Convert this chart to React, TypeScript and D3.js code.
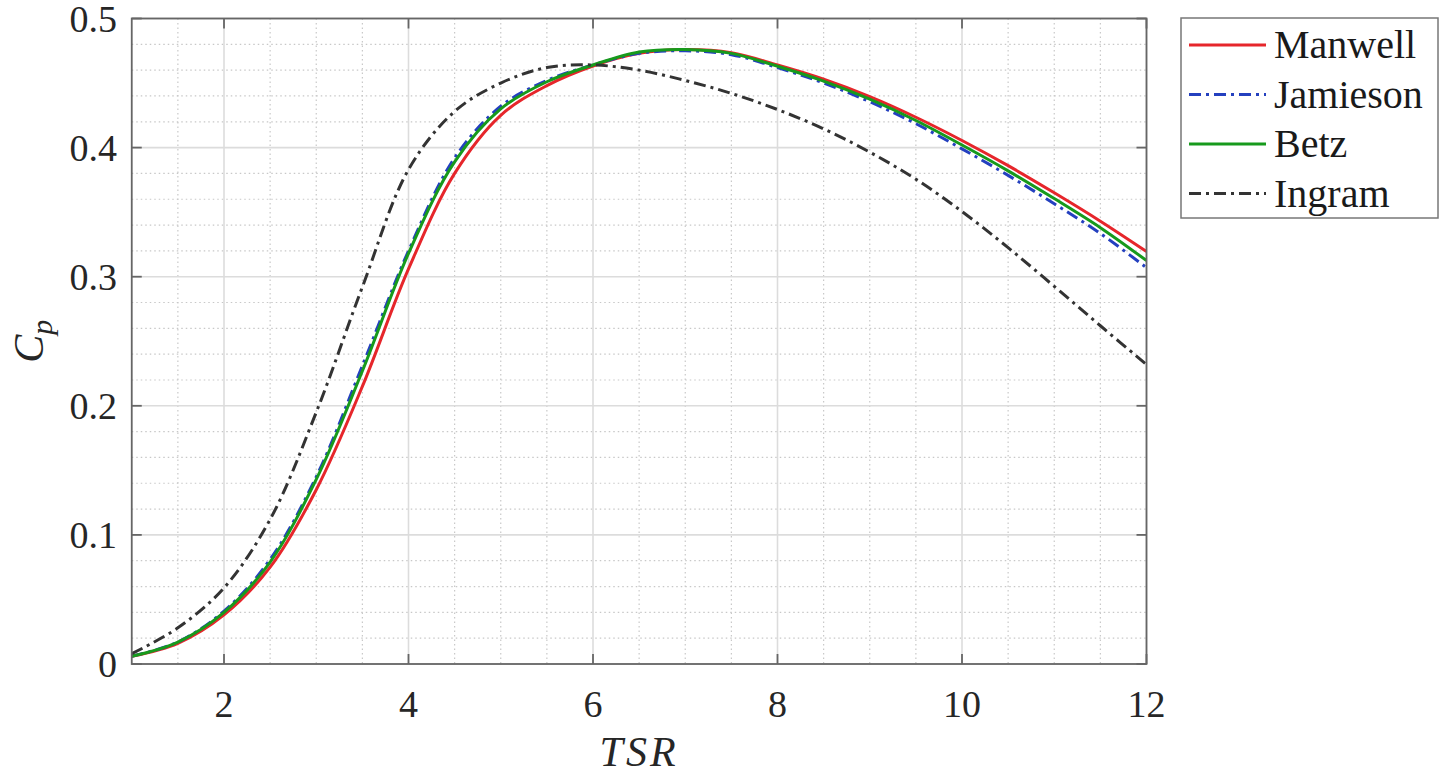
import * as d3 from "d3";

// tip speed ratio samples
const TSR = [1, 1.5, 2, 2.5, 3, 3.5, 4, 4.5, 5, 5.5, 6, 6.5, 7, 7.5, 8, 8.5, 9, 9.5, 10, 10.5, 11, 11.5, 12];

const MANWELL = [0.006, 0.016, 0.038, 0.075, 0.135, 0.215, 0.306, 0.38, 0.425, 0.448, 0.4632, 0.473, 0.476, 0.4735, 0.464, 0.453, 0.4395, 0.4235, 0.4055, 0.386, 0.365, 0.343, 0.3195];
const JAMIESON = [0.006, 0.017, 0.041, 0.081, 0.145, 0.231, 0.32, 0.392, 0.432, 0.452, 0.464, 0.473, 0.475, 0.472, 0.462, 0.45, 0.4355, 0.4185, 0.399, 0.3785, 0.3565, 0.3335, 0.307];
const BETZ = [0.006, 0.017, 0.04, 0.079, 0.143, 0.227, 0.318, 0.389, 0.43, 0.451, 0.464, 0.474, 0.476, 0.473, 0.463, 0.4515, 0.4375, 0.421, 0.402, 0.382, 0.3605, 0.338, 0.3125];
const INGRAM = [0.008, 0.028, 0.059, 0.112, 0.195, 0.292, 0.383, 0.428, 0.45, 0.462, 0.464, 0.46, 0.452, 0.442, 0.4295, 0.4145, 0.3965, 0.3755, 0.3505, 0.3225, 0.2925, 0.262, 0.232];

const X_TICKS = [2, 4, 6, 8, 10, 12];
const Y_TICKS = [0, 0.1, 0.2, 0.3, 0.4, 0.5];
const Y_TICK_LABELS = ["0", "0.1", "0.2", "0.3", "0.4", "0.5"];

const SERIES = [
  { name: "Manwell", values: MANWELL, color: "#e6262b", dash: "none" },
  { name: "Jamieson", values: JAMIESON, color: "#2440bf", dash: "12,5,3,5" },
  { name: "Betz", values: BETZ, color: "#179a1c", dash: "none" },
  { name: "Ingram", values: INGRAM, color: "#333333", dash: "12,5,3,5" },
];

const W = 1447;
const H = 775;
const left = 131.75;
const right = 1146.5;
const top = 18.5;
const bottom = 664;

const FONT = '"Times New Roman", "Liberation Serif", Tinos, Times, serif';

export default function App() {
  const x = d3.scaleLinear().domain([1, 12]).range([left, right]);
  const y = d3.scaleLinear().domain([0, 0.5]).range([bottom, top]);

  const xMinor = d3.range(1.5, 12, 0.5).filter((t) => t % 2 !== 0);
  const yMinor = d3.range(0.02, 0.5, 0.02).filter((v) => Math.abs(v * 10 - Math.round(v * 10)) > 1e-6);

  const line = d3
    .line<number>()
    .x((_, i) => x(TSR[i]))
    .y((d) => y(d))
    .curve(d3.curveCatmullRom.alpha(0.5));

  const axisColor = "#666";
  const tickLen = 10;

  return (
    <div style={{ position: "absolute", left: 0, top: 0 }}>
      <svg width={W} height={H} style={{ display: "block", background: "#fff" }}>
        <defs>
          <clipPath id="plot">
            <rect x={left} y={top} width={right - left} height={bottom - top} />
          </clipPath>
        </defs>

        {/* minor grid */}
        <g stroke="#c8c8c8" strokeWidth={1.2} strokeDasharray="1.5,3">
          {xMinor.map((t) => (
            <line key={"xm" + t} x1={x(t)} x2={x(t)} y1={top} y2={bottom} />
          ))}
          {yMinor.map((v) => (
            <line key={"ym" + v} x1={left} x2={right} y1={y(v)} y2={y(v)} />
          ))}
        </g>

        {/* major grid */}
        <g stroke="#dcdcdc" strokeWidth={1.6}>
          {X_TICKS.map((t) => (
            <line key={"xg" + t} x1={x(t)} x2={x(t)} y1={top} y2={bottom} />
          ))}
          {Y_TICKS.map((v) => (
            <line key={"yg" + v} x1={left} x2={right} y1={y(v)} y2={y(v)} />
          ))}
        </g>

        {/* curves */}
        <g clipPath="url(#plot)" fill="none">
          {SERIES.map((s) => (
            <path
              key={s.name}
              d={line(s.values) || ""}
              stroke={s.color}
              strokeWidth={3}
              strokeDasharray={s.dash}
            />
          ))}
        </g>

        {/* axes box and ticks */}
        <g stroke={axisColor} strokeWidth={1.8} fill="none">
          <rect x={left} y={top} width={right - left} height={bottom - top} />
          {X_TICKS.map((t) => (
            <g key={"xt" + t}>
              <line x1={x(t)} x2={x(t)} y1={bottom} y2={bottom - tickLen} />
              <line x1={x(t)} x2={x(t)} y1={top} y2={top + tickLen} />
            </g>
          ))}
          {Y_TICKS.map((v) => (
            <g key={"yt" + v}>
              <line x1={left} x2={left + tickLen} y1={y(v)} y2={y(v)} />
              <line x1={right} x2={right - tickLen} y1={y(v)} y2={y(v)} />
            </g>
          ))}
        </g>

        {/* tick labels */}
        <g style={{ fontFamily: FONT }} fontSize={38} fill="#262626">
          {X_TICKS.map((t) => (
            <text key={"xl" + t} x={x(t)} y={717} textAnchor="middle">
              {t}
            </text>
          ))}
          {Y_TICKS.map((v, i) => (
            <text key={"yl" + v} x={117} y={y(v) + 13} textAnchor="end">
              {Y_TICK_LABELS[i]}
            </text>
          ))}
        </g>

        {/* axis labels */}
        <text
          x={(left + right) / 2}
          y={766}
          textAnchor="middle"
          style={{ fontFamily: FONT }}
          fontStyle="italic"
          fontSize={42}
          letterSpacing={3}
          fill="#262626"
        >
          TSR
        </text>
        <text
          transform={`translate(43, ${(top + bottom) / 2}) rotate(-90)`}
          textAnchor="middle"
          style={{ fontFamily: FONT }}
          fontStyle="italic"
          fontSize={42}
          fill="#262626"
        >
          C
          <tspan fontSize={30} dy={9}>
            p
          </tspan>
        </text>

        {/* legend */}
        <g>
          <rect x={1181} y={18} width={257} height={200} fill="#fff" stroke="#777" strokeWidth={1.5} />
          {SERIES.map((s, i) => {
            const ry = 45 + i * 49.5;
            return (
              <g key={"lg" + s.name}>
                <line
                  x1={1189}
                  x2={1266}
                  y1={ry}
                  y2={ry}
                  stroke={s.color}
                  strokeWidth={3}
                  strokeDasharray={s.dash}
                />
                <text x={1274} y={ry + 13} style={{ fontFamily: FONT }} fontSize={40} fill="#1a1a1a">
                  {s.name}
                </text>
              </g>
            );
          })}
        </g>
      </svg>
    </div>
  );
}
